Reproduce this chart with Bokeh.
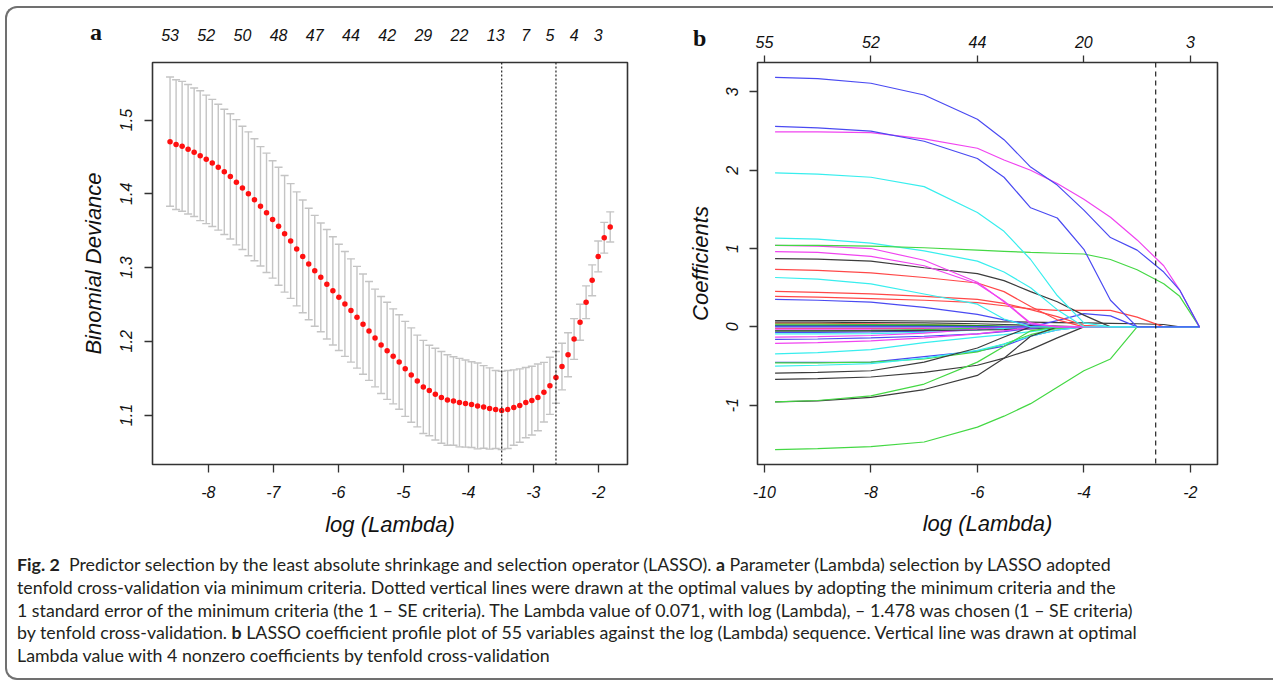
from bokeh.plotting import figure
from bokeh.layouts import column, row
from bokeh.models import (Range1d, LinearAxis, FixedTicker, CustomJSTickFormatter, Div, Span,
                          ColumnDataSource, Whisker, TeeHead)
from bokeh.embed import file_html
from bokeh.resources import INLINE

FONT = "Liberation Sans"

# ---------------- Panel a: cross-validation curve ----------------
log_lambda_a = [-8.590, -8.497, -8.404, -8.312, -8.219, -8.126, -8.033, -7.940, -7.848, -7.755,
                -7.662, -7.569, -7.476, -7.384, -7.291, -7.198, -7.105, -7.012, -6.920, -6.827,
                -6.734, -6.641, -6.548, -6.456, -6.363, -6.270, -6.177, -6.084, -5.992, -5.899,
                -5.806, -5.713, -5.620, -5.528, -5.435, -5.342, -5.249, -5.156, -5.064, -4.971,
                -4.878, -4.785, -4.692, -4.600, -4.507, -4.414, -4.321, -4.228, -4.136, -4.043,
                -3.950, -3.857, -3.764, -3.672, -3.579, -3.486, -3.393, -3.300, -3.208, -3.115,
                -3.022, -2.929, -2.836, -2.744, -2.651, -2.558, -2.465, -2.372, -2.280, -2.187,
                -2.094, -2.001, -1.908, -1.816]
cv_mean = [1.4707, 1.4667, 1.4644, 1.4604, 1.4564, 1.4516, 1.4467, 1.4418, 1.4360, 1.4298,
           1.4236, 1.4156, 1.4080, 1.4000, 1.3920, 1.3831, 1.3742, 1.3653, 1.3560, 1.3458,
           1.3360, 1.3253, 1.3151, 1.3049, 1.2956, 1.2867, 1.2773, 1.2684, 1.2596, 1.2507,
           1.2418, 1.2326, 1.2233, 1.2140, 1.2045, 1.1950, 1.1871, 1.1796, 1.1720, 1.1627,
           1.1542, 1.1462, 1.1382, 1.1333, 1.1284, 1.1240, 1.1204, 1.1191, 1.1169, 1.1156,
           1.1142, 1.1124, 1.1110, 1.1089, 1.1076, 1.1063, 1.1076, 1.1102, 1.1129, 1.1169,
           1.1196, 1.1240, 1.1310, 1.1396, 1.1511, 1.1658, 1.1818, 1.2031, 1.2258, 1.2529,
           1.2827, 1.3151, 1.3404, 1.3551]
cv_sd = [0.0876, 0.0880, 0.0880, 0.0878, 0.0871, 0.0880, 0.0871, 0.0862, 0.0853, 0.0849,
         0.0849, 0.0849, 0.0836, 0.0840, 0.0827, 0.0809, 0.0809, 0.0796, 0.0800, 0.0791,
         0.0778, 0.0773, 0.0764, 0.0756, 0.0751, 0.0738, 0.0742, 0.0733, 0.0720, 0.0711,
         0.0700, 0.0690, 0.0680, 0.0670, 0.0662, 0.0658, 0.0658, 0.0644, 0.0640, 0.0644,
         0.0640, 0.0622, 0.0631, 0.0613, 0.0622, 0.0622, 0.0613, 0.0600, 0.0600, 0.0591,
         0.0582, 0.0582, 0.0560, 0.0551, 0.0529, 0.0529, 0.0529, 0.0511, 0.0498, 0.0476,
         0.0467, 0.0453, 0.0404, 0.0387, 0.0351, 0.0316, 0.0298, 0.0276, 0.0244, 0.0222,
         0.0209, 0.0209, 0.0209, 0.0204]
lambda_min_log = -3.486
lambda_1se_log = -2.651
top_idx_a = [0, 6, 12, 18, 24, 30, 36, 42, 48, 54, 59, 63, 67, 71]
top_counts_a = ["53", "52", "50", "48", "47", "44", "42", "29", "22", "13", "7", "5", "4", "3"]
xticks_a = [-8, -7, -6, -5, -4, -3, -2]
yticks_a = [1.1, 1.2, 1.3, 1.4, 1.5]

# ---------------- Panel b: coefficient paths ----------------
knots_b = [-9.8, -9.0, -8.0, -7.0, -6.0, -5.5, -5.0, -4.5, -4.0, -3.5, -3.0, -2.5, -2.2, -1.83]
BLK, RED, GRN, BLU, CYN, MAG = "#3c3c3c", "#ff4848", "#44d844", "#4a4af2", "#38eeee", "#f044f0"

coef_blue_1 = [3.185, 3.17, 3.11, 2.96, 2.65, 2.39, 2.04, 1.81, 1.49, 1.14, 0.98, 0.70, 0.47, 0.0]
coef_blue_2 = [2.56, 2.54, 2.50, 2.37, 2.15, 1.91, 1.52, 1.39, 0.99, 0.34, 0.0, 0.0, 0.0, 0.0]
coef_mag_1 = [2.49, 2.49, 2.48, 2.40, 2.28, 2.13, 2.00, 1.83, 1.63, 1.40, 1.11, 0.78, 0.47, 0.0]
coef_cyan_1 = [1.966, 1.95, 1.91, 1.79, 1.46, 1.22, 0.86, 0.40, 0.05, 0.0, 0.0, 0.0, 0.0, 0.0]
coef_green_1 = [1.04, 1.04, 1.03, 1.01, 0.98, 0.965, 0.95, 0.94, 0.93, 0.86, 0.73, 0.55, 0.39, 0.0]
coef_cyan_2 = [1.134, 1.12, 1.07, 0.97, 0.84, 0.70, 0.50, 0.22, 0.0, 0.0, 0.0, 0.0, 0.0, 0.0]
coef_mag_2 = [1.04, 1.03, 1.00, 0.85, 0.57, 0.32, 0.04, 0.0, 0.0, 0.0, 0.0, 0.0, 0.0, 0.0]
coef_mag_3 = [0.96, 0.95, 0.90, 0.78, 0.55, 0.33, 0.05, 0.0, 0.0, 0.0, 0.0, 0.0, 0.0, 0.0]
coef_black_1 = [0.87, 0.865, 0.84, 0.755, 0.68, 0.59, 0.45, 0.32, 0.15, 0.0, 0.0, 0.0, 0.0, 0.0]
coef_red_1 = [0.735, 0.72, 0.69, 0.63, 0.56, 0.45, 0.26, 0.09, 0.0, 0.0, 0.0, 0.0, 0.0, 0.0]
coef_cyan_3 = [0.63, 0.61, 0.55, 0.42, 0.29, 0.10, 0.0, 0.0, 0.0, 0.0, 0.0, 0.0, 0.0, 0.0]
coef_red_2 = [0.454, 0.44, 0.42, 0.39, 0.35, 0.30, 0.22, 0.13, 0.02, 0.0, 0.0, 0.0, 0.0, 0.0]
coef_red_3 = [0.39, 0.38, 0.36, 0.34, 0.31, 0.27, 0.23, 0.21, 0.21, 0.21, 0.125, 0.0, 0.0, 0.0]
coef_blue_3 = [0.35, 0.34, 0.315, 0.25, 0.16, 0.09, 0.03, 0.0, 0.0, 0.0, 0.0, 0.0, 0.0, 0.0]
coef_blue_4 = [0.0, 0.0, 0.0, 0.0, 0.0, 0.0, 0.0, 0.08, 0.17, 0.14, 0.0, 0.0, 0.0, 0.0]
coef_black_2 = [0.08, 0.08, 0.08, 0.075, 0.07, 0.065, 0.06, 0.055, 0.05, 0.045, 0.04, 0.03, 0.0, 0.0]
coef_black_3 = [0.06, 0.06, 0.055, 0.05, 0.04, 0.03, 0.02, 0.01, 0.0, 0.0, 0.0, 0.0, 0.0, 0.0]
coef_red_4 = [0.045, 0.045, 0.04, 0.03, 0.015, 0.0, 0.0, 0.0, 0.0, 0.0, 0.0, 0.0, 0.0, 0.0]
coef_green_2 = [0.035, 0.035, 0.03, 0.025, 0.015, 0.005, 0.0, 0.0, 0.0, 0.0, 0.0, 0.0, 0.0, 0.0]
coef_green_3 = [0.02, 0.02, 0.02, 0.02, 0.015, 0.01, 0.005, 0.0, 0.0, 0.0, 0.0, 0.0, 0.0, 0.0]
coef_blue_5 = [0.01, 0.01, 0.01, 0.008, 0.004, 0.0, 0.0, 0.0, 0.0, 0.0, 0.0, 0.0, 0.0, 0.0]
coef_red_5 = [-0.02, -0.02, -0.02, -0.018, -0.015, -0.01, -0.005, 0.0, 0.0, 0.0, 0.0, 0.0, 0.0, 0.0]
coef_mag_4 = [-0.03, -0.03, -0.028, -0.025, -0.015, -0.008, 0.0, 0.0, 0.0, 0.0, 0.0, 0.0, 0.0, 0.0]
coef_green_4 = [-0.05, -0.05, -0.045, -0.035, -0.015, 0.0, 0.0, 0.0, 0.0, 0.0, 0.0, 0.0, 0.0, 0.0]
coef_blue_6 = [-0.07, -0.07, -0.065, -0.055, -0.035, -0.02, -0.008, 0.0, 0.0, 0.0, 0.0, 0.0, 0.0, 0.0]
coef_cyan_4 = [-0.09, -0.09, -0.085, -0.07, -0.04, -0.02, 0.0, 0.0, 0.0, 0.0, 0.0, 0.0, 0.0, 0.0]
coef_mag_5 = [-0.13, -0.125, -0.11, -0.08, -0.03, 0.0, 0.0, 0.0, 0.0, 0.0, 0.0, 0.0, 0.0, 0.0]
coef_black_4 = [-0.05, -0.05, -0.05, -0.045, -0.04, -0.035, -0.025, -0.015, -0.005, 0.0, 0.0, 0.0, 0.0, 0.0]
coef_blue_7 = [-0.16, -0.155, -0.14, -0.12, -0.09, -0.06, -0.02, 0.0, 0.0, 0.0, 0.0, 0.0, 0.0, 0.0]
coef_mag_6 = [-0.21, -0.20, -0.18, -0.14, -0.09, -0.05, -0.01, 0.0, 0.0, 0.0, 0.0, 0.0, 0.0, 0.0]
coef_cyan_5 = [-0.345, -0.33, -0.29, -0.20, -0.13, -0.10, -0.06, -0.02, 0.0, 0.0, 0.0, 0.0, 0.0, 0.0]
coef_blue_8 = [-0.454, -0.454, -0.45, -0.38, -0.31, -0.245, -0.12, -0.04, 0.0, 0.0, 0.0, 0.0, 0.0, 0.0]
coef_green_5 = [-0.46, -0.46, -0.45, -0.41, -0.32, -0.22, -0.10, -0.02, 0.0, 0.0, 0.0, 0.0, 0.0, 0.0]
coef_cyan_6 = [-0.50, -0.49, -0.47, -0.40, -0.30, -0.22, -0.12, -0.04, 0.0, 0.0, 0.0, 0.0, 0.0, 0.0]
coef_black_5 = [-0.59, -0.58, -0.56, -0.45, -0.27, -0.13, 0.0, 0.0, 0.0, 0.0, 0.0, 0.0, 0.0, 0.0]
coef_black_6 = [-0.67, -0.66, -0.64, -0.58, -0.49, -0.40, -0.29, -0.14, 0.0, 0.0, 0.0, 0.0, 0.0, 0.0]
coef_black_7 = [-0.957, -0.945, -0.90, -0.80, -0.62, -0.40, -0.12, 0.0, 0.0, 0.0, 0.0, 0.0, 0.0, 0.0]
coef_green_6 = [-0.957, -0.94, -0.88, -0.73, -0.45, -0.25, -0.05, 0.0, 0.0, 0.0, 0.0, 0.0, 0.0, 0.0]
coef_green_7 = [-1.567, -1.555, -1.53, -1.47, -1.28, -1.14, -0.98, -0.77, -0.56, -0.41, 0.0, 0.0, 0.0, 0.0]

paths_b = [
    (coef_black_3, BLK), (coef_red_4, RED), (coef_green_2, GRN), (coef_green_3, "#1f8f1f"),
    (coef_blue_5, BLU), (coef_red_5, RED), (coef_mag_4, MAG), (coef_green_4, GRN),
    (coef_blue_6, BLU), (coef_cyan_4, CYN), (coef_mag_5, MAG), (coef_black_4, BLK),
    (coef_blue_7, BLU), (coef_mag_6, MAG), (coef_cyan_5, CYN), (coef_blue_8, BLU),
    (coef_green_5, GRN), (coef_cyan_6, CYN), (coef_black_5, BLK), (coef_black_6, BLK),
    (coef_black_7, BLK), (coef_green_6, GRN), (coef_green_7, GRN),
    (coef_black_2, BLK), (coef_blue_4, BLU), (coef_blue_3, BLU), (coef_red_3, RED),
    (coef_red_2, RED), (coef_cyan_3, CYN), (coef_red_1, RED), (coef_black_1, BLK),
    (coef_mag_3, MAG), (coef_mag_2, MAG), (coef_cyan_2, CYN), (coef_green_1, GRN),
    (coef_cyan_1, CYN), (coef_mag_1, MAG), (coef_blue_2, BLU), (coef_blue_1, BLU),
]
top_ticks_b = [-10, -8, -6, -4, -2]
top_counts_b = ["55", "52", "44", "20", "3"]
xticks_b = [-10, -8, -6, -4, -2]
yticks_b = [-1, 0, 1, 2, 3]

caption_lines = [
    "<b>Fig. 2</b>&nbsp; Predictor selection by the least absolute shrinkage and selection operator (LASSO). <b>a</b> Parameter (Lambda) selection by LASSO adopted",
    "tenfold cross-validation via minimum criteria. Dotted vertical lines were drawn at the optimal values by adopting the minimum criteria and the",
    "1 standard error of the minimum criteria (the 1 \u2013 SE criteria). The Lambda value of 0.071, with log (Lambda), \u2013 1.478 was chosen (1 \u2013 SE criteria)",
    "by tenfold cross-validation. <b>b</b> LASSO coefficient profile plot of 55 variables against the log (Lambda) sequence. Vertical line was drawn at optimal",
    "Lambda value with 4 nonzero coefficients by tenfold cross-validation",
]
panel_letters = ["a", "b"]

TICK_PX = "16px"
TITLE_PX = "22px"
AX_COLOR = "#333333"
FIG_H = 560
CAP_H = 675 - FIG_H
WRAP_TOP = 8 + FIG_H - 12   # page y of the caption wrapper


def style_axis(ax, standoff, tick_out=8):
    ax.axis_line_color = None
    ax.major_tick_out = tick_out
    ax.major_tick_in = 0
    ax.minor_tick_out = 0
    ax.minor_tick_in = 0
    ax.major_tick_line_color = AX_COLOR
    ax.major_tick_line_width = 1.3
    ax.major_label_text_font = FONT
    ax.major_label_text_font_style = "italic"
    ax.major_label_text_font_size = TICK_PX
    ax.major_label_text_color = "#111111"
    ax.major_label_standoff = standoff
    ax.axis_label_text_font = FONT
    ax.axis_label_text_font_style = "italic"
    ax.axis_label_text_font_size = TITLE_PX
    ax.axis_label_text_color = "#111111"


def base_fig(w, h, xr, yr, ml, mr, mt, mb):
    p = figure(width=w, height=h, x_range=Range1d(*xr), y_range=Range1d(*yr),
               output_backend="svg", toolbar_location=None,
               min_border_left=ml, min_border_right=mr, min_border_top=mt, min_border_bottom=mb)
    p.grid.visible = False
    p.outline_line_color = AX_COLOR
    p.outline_line_width = 1.6
    p.background_fill_color = "white"
    p.border_fill_color = "white"
    return p


def count_formatter(pos, lab):
    return CustomJSTickFormatter(args=dict(pos=pos, lab=lab),
        code="const i = pos.findIndex(v => Math.abs(v - tick) < 1e-6); return i >= 0 ? lab[i] : '';")


def num_formatter(digits):
    return CustomJSTickFormatter(args=dict(d=digits), code="return tick.toFixed(d);")


# ---------- figure a ----------
pa = base_fig(649, FIG_H, (-8.86, -1.55), (1.033, 1.578), 152, 22, 56, FIG_H - 56 - 408)
up = [m + s for m, s in zip(cv_mean, cv_sd)]
lo = [m - s for m, s in zip(cv_mean, cv_sd)]
src_a = ColumnDataSource(dict(x=log_lambda_a, y=cv_mean, up=up, lo=lo))
wh = Whisker(base="x", upper="up", lower="lo", source=src_a, line_color="#c4c4c4", line_width=1.4,
             upper_head=TeeHead(size=8, line_color="#c4c4c4", line_width=1.4),
             lower_head=TeeHead(size=8, line_color="#c4c4c4", line_width=1.4))
pa.add_layout(wh)
pa.scatter("x", "y", source=src_a, size=5.5, color="#ff1010", line_color=None)
for loc in (lambda_min_log, lambda_1se_log):
    pa.add_layout(Span(location=loc, dimension="height", line_color="#222222",
                       line_dash="2 2", line_width=1.2))

pa.xaxis.ticker = FixedTicker(ticks=xticks_a)
pa.yaxis.ticker = FixedTicker(ticks=yticks_a)
pa.xaxis.formatter = num_formatter(0)
pa.yaxis.formatter = num_formatter(1)
pa.xaxis.axis_label = "log (Lambda)"
pa.yaxis.axis_label = "Binomial Deviance"
style_axis(pa.xaxis[0], 13)
style_axis(pa.yaxis[0], 12)
pa.yaxis.major_label_orientation = "vertical"
pa.xaxis.axis_label_standoff = 11
pa.yaxis.axis_label_standoff = 12

top_pos_a = [log_lambda_a[i] for i in top_idx_a]
ax_top_a = LinearAxis(ticker=FixedTicker(ticks=top_pos_a), formatter=count_formatter(top_pos_a, top_counts_a))
style_axis(ax_top_a, 22, tick_out=0)
ax_top_a.major_tick_line_color = None
pa.add_layout(ax_top_a, "above")

# ---------- figure b ----------
pb = base_fig(619, FIG_H, (-10.13, -1.49), (-1.757, 3.375), 108, 51, 62, FIG_H - 62 - 407)
pb.multi_line(xs=[knots_b] * len(paths_b), ys=[p[0] for p in paths_b],
              line_color=[p[1] for p in paths_b], line_width=1.2)
pb.add_layout(Span(location=lambda_1se_log, dimension="height", line_color="#222222",
                   line_dash="5 4", line_width=1.2))
pb.xaxis.ticker = FixedTicker(ticks=xticks_b)
pb.yaxis.ticker = FixedTicker(ticks=yticks_b)
pb.xaxis.formatter = num_formatter(0)
pb.yaxis.formatter = num_formatter(0)
pb.xaxis.axis_label = "log (Lambda)"
pb.yaxis.axis_label = "Coefficients"
style_axis(pb.xaxis[0], 13)
style_axis(pb.yaxis[0], 11)
pb.yaxis.major_label_orientation = "vertical"
pb.xaxis.axis_label_standoff = 10
pb.yaxis.axis_label_standoff = 11

ax_top_b = LinearAxis(ticker=FixedTicker(ticks=top_ticks_b), formatter=count_formatter(top_ticks_b, top_counts_b))
style_axis(ax_top_b, 8, tick_out=7)
pb.add_layout(ax_top_b, "above")

# ---------- caption, frame border and panel letters (HTML overlay) ----------
def abs_box(x, y, w, h, extra):
    return ("<div style=\"position:absolute; left:%dpx; top:%dpx; width:%dpx; height:%dpx; %s\"></div>"
            % (x - 8, y - WRAP_TOP, w, h, extra))

letter_style = ("position:absolute; font-family:'Liberation Serif'; font-weight:bold; font-size:24px; "
                "line-height:27px; color:#111111;")
frame_box = abs_box(8, 9, 1268, 674, "box-sizing:border-box; border-top:2px solid #707070; "
                    "border-left:2px solid #707070; border-bottom:2px solid #707070; "
                    "border-top-left-radius:12px; border-bottom-left-radius:12px; pointer-events:none;")
cap_html = (
    "<div style=\"position:relative; top:-12px; font-family:'Lato'; font-size:17.8px; line-height:22.8px; "
    "color:#231f20; white-space:nowrap; padding-left:12px;\">"
    + frame_box
    + "<span style=\"" + letter_style + " left:85px; top:%dpx;\">" % (22 - WRAP_TOP) + panel_letters[0] + "</span>"
    + "<span style=\"" + letter_style + " left:688px; top:%dpx;\">" % (28 - WRAP_TOP) + panel_letters[1] + "</span>"
    + "<br>".join(caption_lines) + "</div>"
)
cap = Div(text=cap_html, width=1268, height=CAP_H, styles={"overflow": "visible"})

page = column(row(pa, pb), cap)

open("out.html", "w").write(file_html(page, INLINE))
